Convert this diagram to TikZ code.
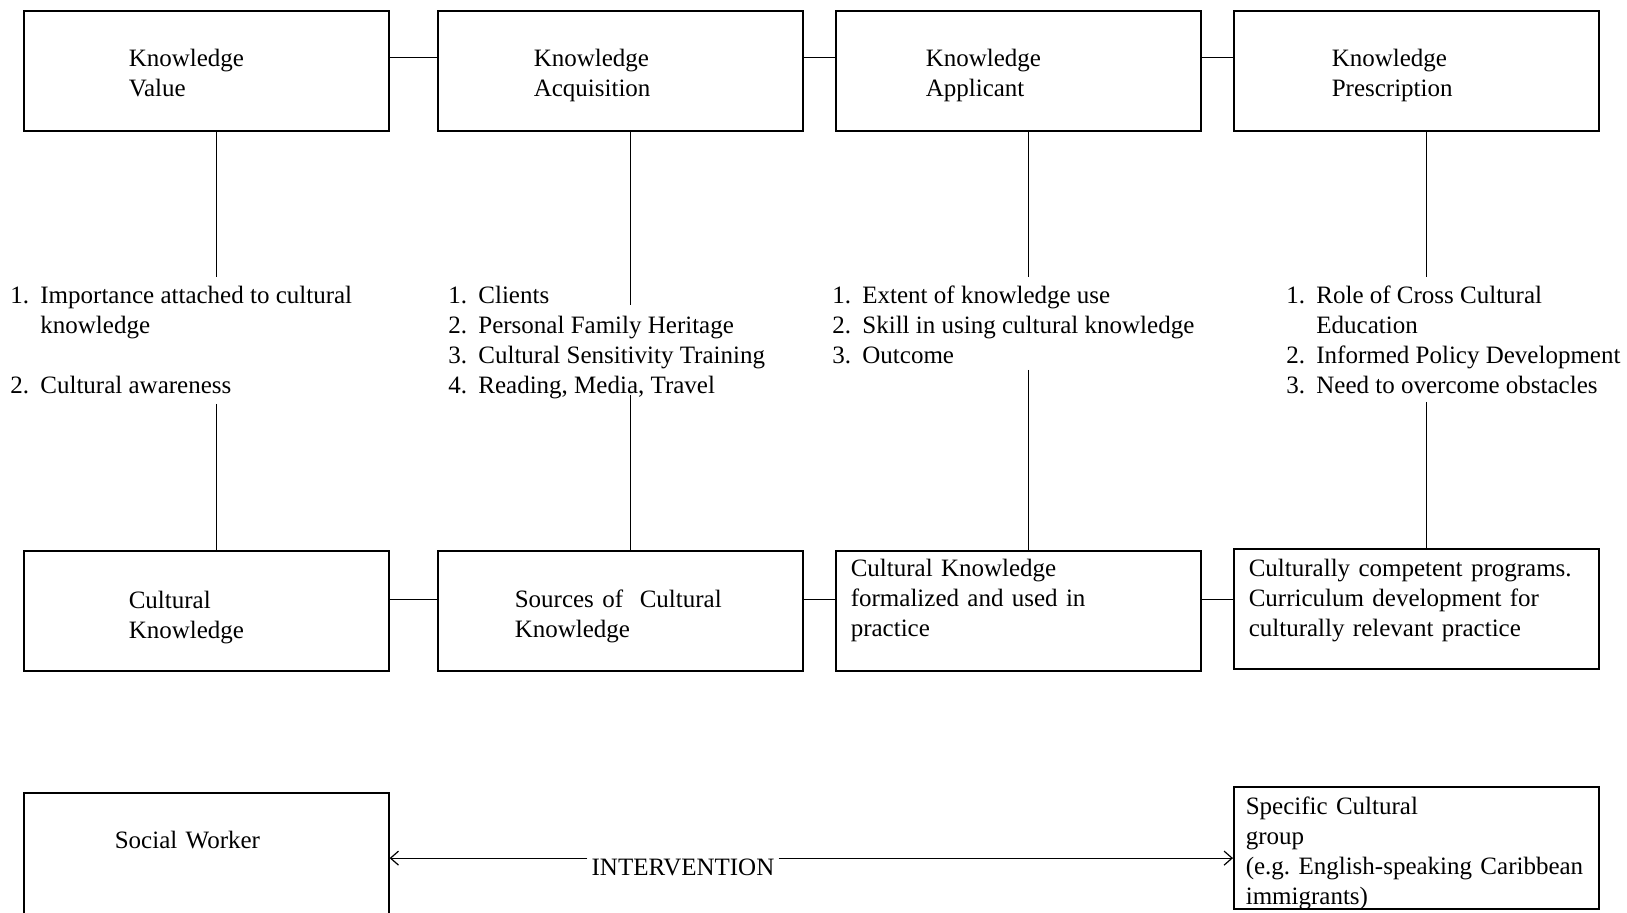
\documentclass[tikz,border=0pt]{standalone}
\usepackage{fontspec}
\setmainfont{Liberation Serif}
\usetikzlibrary{arrows.meta}

\begin{document}
\begin{tikzpicture}[
  x=.5pt, y=-.5pt,
  >={Straight Barb[length=4pt,width=7pt]},
  link/.style={line width=.6pt, draw=black},
  kbox/.style={draw, line width=.8pt, align=left, anchor=north west,
               inner ysep=0pt, text height=28pt, text depth=32pt,
               font=\fontsize{12.5}{15}\selectfont},
  items/.style={anchor=north west, inner xsep=0pt, inner ysep=2.5pt,
                font=\fontsize{12.5}{15}\selectfont},
  tag/.style={inner xsep=2pt, inner ysep=0pt,
              font=\fontsize{12.5}{15}\selectfont}
]
\useasboundingbox (0,0) rectangle (1627,913);

% ---------- top row: knowledge stages ----------
\node[kbox, inner xsep=52.5pt, text width=77.5pt] (kv)  at (23,10)   {Knowledge\\Value};
\node[kbox, inner xsep=48pt,   text width=86.5pt] (ka)  at (437,10)  {Knowledge\\Acquisition};
\node[kbox, inner xsep=45pt,   text width=92.5pt] (kap) at (835,10)  {Knowledge\\Applicant};
\node[kbox, inner xsep=49pt,   text width=84.5pt] (kp)  at (1233,10) {Knowledge\\Prescription};

% ---------- middle: numbered items ----------
\node[items] (lv) at (10,277) {\begin{tabular}{@{}p{15pt}@{}l@{}}
  1. & Importance attached to cultural\\
     & knowledge\\
     & \\
  2. & Cultural awareness
\end{tabular}};
\node[items] (la) at (448,277) {\begin{tabular}{@{}p{15pt}@{}l@{}}
  1. & Clients\\
  2. & Personal Family Heritage\\
  3. & Cultural Sensitivity Training\\
  4. & Reading, Media, Travel
\end{tabular}};
\node[items] (lap) at (832,277) {\begin{tabular}{@{}p{15pt}@{}l@{}}
  1. & Extent of knowledge use\\
  2. & Skill in using cultural knowledge\\
  3. & Outcome
\end{tabular}};
\node[items] (lp) at (1286,277) {\begin{tabular}{@{}p{15pt}@{}l@{}}
  1. & Role of Cross Cultural\\
     & Education\\
  2. & Informed Policy Development\\
  3. & Need to overcome obstacles
\end{tabular}};

% ---------- bottom row: outcomes ----------
\node[kbox, inner xsep=52.5pt, text width=77.5pt,
      text height=29pt, text depth=31pt]   (ck) at (23,550)   {Cultural\\Knowledge};
\node[kbox, inner xsep=38.5pt, text width=105.5pt,
      text height=28.5pt, text depth=31.5pt] (sc) at (437,550)  {Sources of\ \ Cultural\\Knowledge};
\node[kbox, inner xsep=7.5pt,  text width=167.5pt,
      text height=13pt, text depth=47pt]   (kf) at (835,550)  {Cultural Knowledge\\formalized and used in\\practice};
\node[kbox, inner xsep=7.5pt,  text width=167.5pt,
      text height=14pt, text depth=46pt]   (cp) at (1233,548) {Culturally competent programs.\\Curriculum development for\\culturally relevant practice};

% ---------- intervention ----------
\node[kbox, inner xsep=45.5pt, text width=91.5pt,
      text height=28pt, text depth=34pt] (sw) at (23,792) {Social Worker};
\node[kbox, inner xsep=6pt, text width=170.5pt,
      text height=14pt, text depth=47pt] (scg) at (1233,786)
  {Specific Cultural\\group\\\mbox{(e.g.\ English-speaking Caribbean}\\immigrants)};
\node[tag] (iv) at (683,867) {INTERVENTION};

% ---------- edges ----------
\draw[link] ([yshift=6.5pt]kv.east)  -- ([yshift=6.5pt]ka.west);
\draw[link] ([yshift=6.5pt]ka.east)  -- ([yshift=6.5pt]kap.west);
\draw[link] ([yshift=6.5pt]kap.east) -- ([yshift=6.5pt]kp.west);

\draw[link] ([yshift=5.5pt]ck.east) -- ([yshift=5.5pt]sc.west);
\draw[link] ([yshift=5.5pt]sc.east) -- ([yshift=5.5pt]kf.west);
\draw[link] ([yshift=5.5pt]kf.east) -- ([yshift=5.5pt]kf.east -| cp.west);

\draw[link] ([xshift=5pt]kv.south)  -- ([xshift=5pt]kv.south |- lv.north);
\draw[link] ([xshift=5pt]ka.south)  -- ([xshift=5pt,yshift=-14pt]ka.south |- la.north);
\draw[link] ([xshift=5pt]kap.south) -- ([xshift=5pt]kap.south |- lap.north);
\draw[link] ([xshift=5pt]kp.south)  -- ([xshift=5pt]kp.south |- lp.north);

\draw[link] ([xshift=5pt,yshift=2pt]ck.north |- lv.south)  -- ([xshift=5pt]ck.north);
\draw[link] ([xshift=5pt,yshift=6.5pt]sc.north |- la.south) -- ([xshift=5pt]sc.north);
\draw[link] ([xshift=5pt,yshift=4pt]kf.north |- lap.south) -- ([xshift=5pt]kf.north);
\draw[link] ([xshift=5pt,yshift=3pt]cp.north |- lp.south)  -- ([xshift=5pt]cp.north);

\draw[link, ->] (iv.north west) -- (iv.north west -| sw.east);
\draw[link, ->] (iv.north east) -- (iv.north east -| scg.west);

\end{tikzpicture}
\end{document}
